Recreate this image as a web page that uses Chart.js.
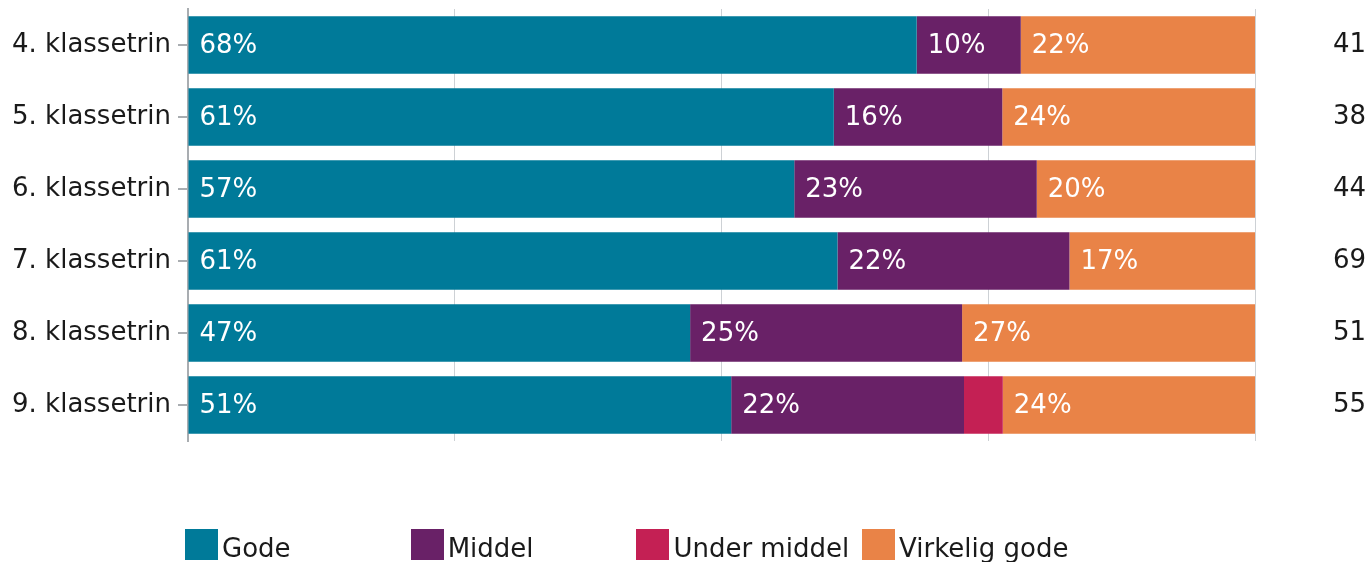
<!DOCTYPE html>
<html lang="da">
<head>
<meta charset="utf-8">
<title>Vurdering fordelt på klassetrin</title>
<script src="https://cdn.jsdelivr.net/npm/chart.js@4/dist/chart.umd.min.js"></script>
<style>
  html, body { margin: 0; padding: 0; background: #fff; overflow: hidden; }
  #wrap { position: relative; width: 1372px; height: 562px; }
  #chart { position: absolute; left: 0; top: 0; }
  .legend-item { position: absolute; top: 529px; height: 40px; }
  .legend-box { position: absolute; left: 0; top: 0; width: 33px; height: 31px; }
  .legend-text { position: absolute; left: 37px; top: 4px; white-space: nowrap;
    font-family: "DejaVu Sans", sans-serif; font-size: 26px; color: #1a1a1a; line-height: normal; }
</style>
</head>
<body>
<div id="wrap">
  <canvas id="chart" width="1372" height="562"></canvas>
  <div id="legend"></div>
</div>
<script>
// Grade levels
const categories = ['4. klassetrin', '5. klassetrin', '6. klassetrin', '7. klassetrin', '8. klassetrin', '9. klassetrin'];
// Number of answers per grade level
const respondents = [41, 38, 44, 69, 51, 55];
// Answers per rating
const gode = [28, 23, 25, 42, 24, 28];
const middel = [4, 6, 10, 15, 13, 12];
const underMiddel = [0, 0, 0, 0, 0, 2];
const virkeligGode = [9, 9, 9, 12, 14, 13];
// Gridline positions on the share scale (percent)
const shareTicks = [0, 25, 50, 75, 100];

const toShare = arr => arr.map((v, i) => v / respondents[i] * 100);

const series = [
  { label: 'Gode', values: gode, color: '#007a99' },
  { label: 'Middel', values: middel, color: '#692167' },
  { label: 'Under middel', values: underMiddel, color: '#c42054' },
  { label: 'Virkelig gode', values: virkeligGode, color: '#e98347' }
];

Chart.defaults.font.family = '"DejaVu Sans", sans-serif';
Chart.defaults.font.size = 26;
Chart.defaults.color = '#1a1a1a';

// Vertical axes should not reserve extra room above/below the bars
const noVerticalPadding = s => { s.paddingTop = 0; s.paddingBottom = 0; };

// Writes the rounded share inside each segment, near its left end
const segmentLabels = {
  id: 'segmentLabels',
  afterDatasetsDraw(chart) {
    const ctx = chart.ctx;
    ctx.save();
    ctx.font = '26px "DejaVu Sans", sans-serif';
    ctx.fillStyle = '#ffffff';
    ctx.textAlign = 'left';
    ctx.textBaseline = 'middle';
    chart.data.datasets.forEach((ds, di) => {
      const meta = chart.getDatasetMeta(di);
      meta.data.forEach((bar, i) => {
        const v = ds.data[i];
        if (v < 5) return;
        const start = Math.min(bar.base, bar.x);
        ctx.fillText(Math.round(v) + '%', start + 11, bar.y + 1);
      });
    });
    ctx.restore();
  }
};

const chart = new Chart(document.getElementById('chart'), {
  type: 'bar',
  data: {
    labels: categories,
    datasets: series.map(s => ({
      label: s.label,
      data: toShare(s.values),
      backgroundColor: s.color,
      borderWidth: 0,
      categoryPercentage: 1,
      barPercentage: 0.8
    }))
  },
  options: {
    indexAxis: 'y',
    responsive: false,
    animation: false,
    layout: { padding: { top: 9, bottom: 121, left: 0, right: 6 } },
    plugins: { legend: { display: false }, tooltip: { enabled: false } },
    scales: {
      x: {
        stacked: true,
        min: 0,
        max: 100,
        afterBuildTicks: scale => { scale.ticks = shareTicks.map(v => ({ value: v })); },
        ticks: { display: false },
        grid: { color: '#cdd1d5', lineWidth: 1, drawTicks: false },
        border: { display: false }
      },
      y: {
        stacked: true,
        position: 'left',
        afterFit: scale => { scale.width = 188; noVerticalPadding(scale); },
        ticks: { padding: 7, color: '#1a1a1a', font: { size: 26 } },
        grid: { offset: false, drawOnChartArea: false, drawTicks: true, tickLength: 10, color: '#a9adb1', lineWidth: 2 },
        border: { display: true, color: '#a9adb1', width: 2 }
      },
      n: {
        type: 'category',
        position: 'right',
        labels: respondents.map(String),
        offset: true,
        afterFit: scale => { scale.width = 111; noVerticalPadding(scale); },
        ticks: { padding: 10, crossAlign: 'far', color: '#1a1a1a', font: { size: 26 } },
        grid: { display: false },
        border: { display: false }
      }
    }
  },
  plugins: [segmentLabels]
});

// Legend row below the plot
const legend = document.getElementById('legend');
chart.data.datasets.forEach((ds, i) => {
  const item = document.createElement('div');
  item.className = 'legend-item';
  item.style.left = (185 + i * 225.7) + 'px';
  const box = document.createElement('div');
  box.className = 'legend-box';
  box.style.background = ds.backgroundColor;
  const text = document.createElement('span');
  text.className = 'legend-text';
  text.textContent = ds.label;
  item.appendChild(box);
  item.appendChild(text);
  legend.appendChild(item);
});
</script>
</body>
</html>
